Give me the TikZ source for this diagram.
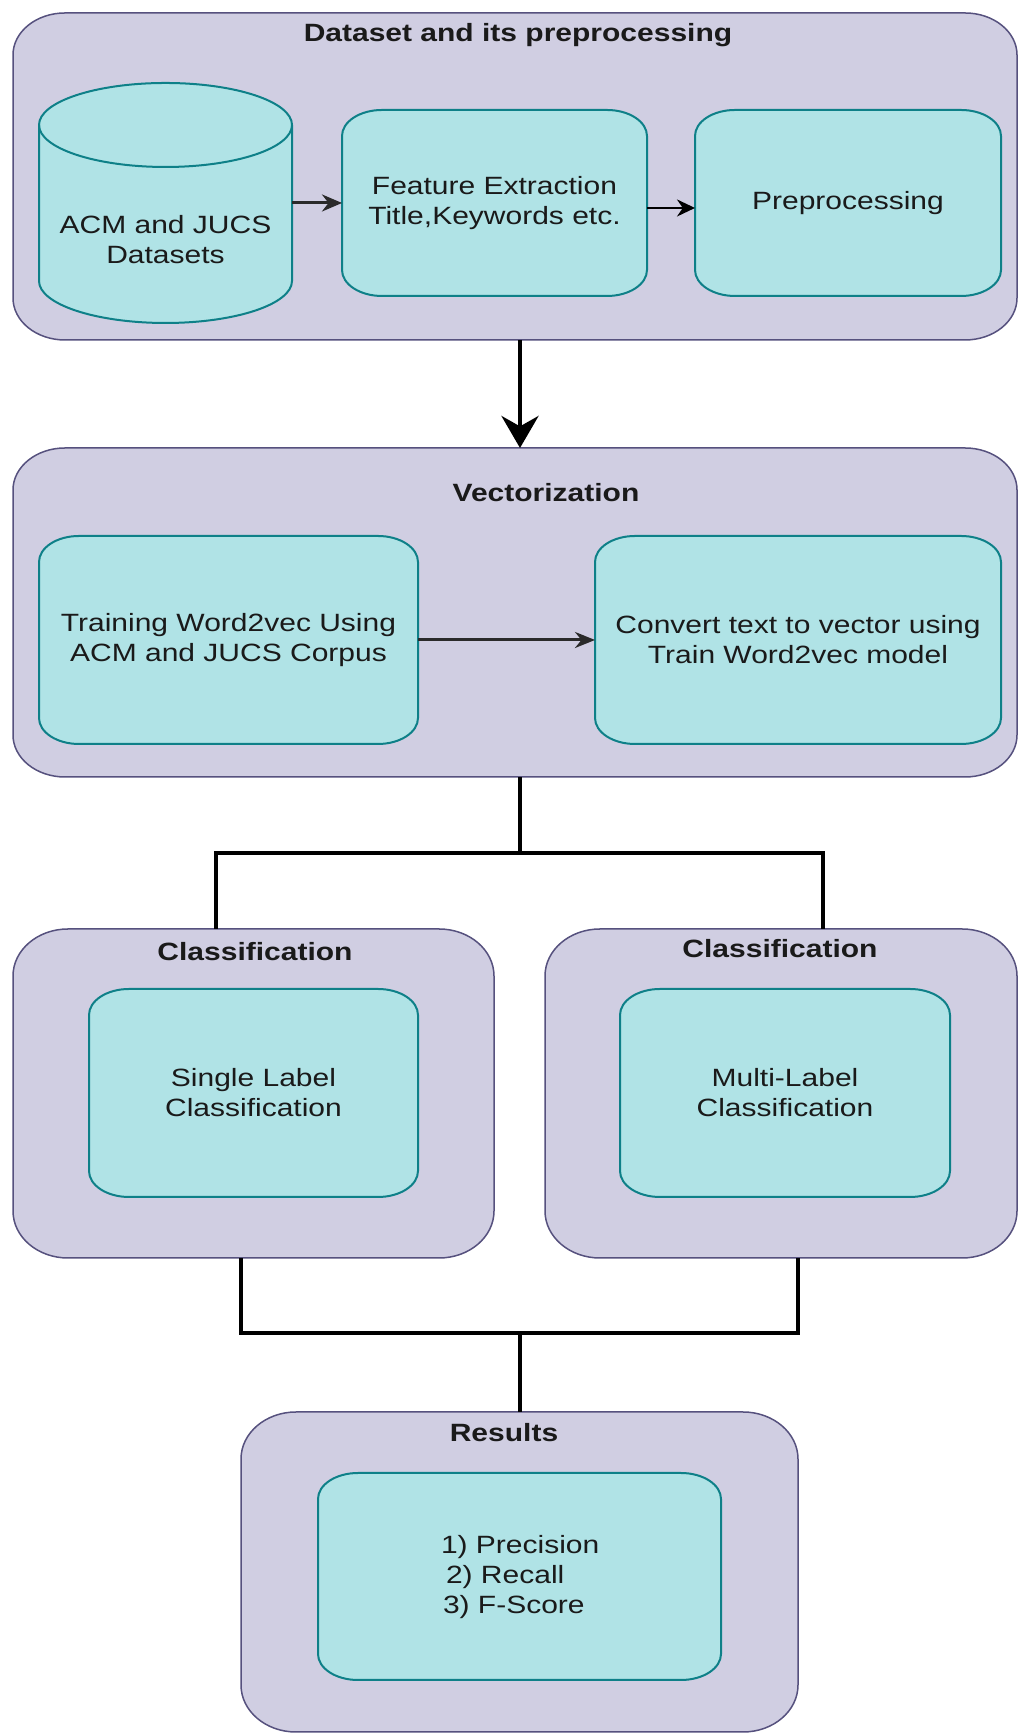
\documentclass[tikz,border=0pt]{standalone}
\usepackage{fontspec}
\setmainfont{Liberation Sans}[FakeStretch=1.2]
\usetikzlibrary{arrows.meta,calc}
\definecolor{outfill}{HTML}{D0CEE2}
\definecolor{outline}{HTML}{56517E}
\definecolor{infill}{HTML}{B0E3E6}
\definecolor{inline}{HTML}{0E8088}
\definecolor{txt}{HTML}{1A1A1A}
\definecolor{arrg}{HTML}{2A2A2A}
\pgfdeclarelayer{bgA}
\pgfdeclarelayer{bgB}
\pgfsetlayers{bgA,bgB,main}
\newcommand\myrbox[4]{%
  \path[#4] ([xshift=#2pt]#1.north west) -- ([xshift=-#2pt]#1.north east)
    arc[start angle=90,end angle=0,x radius=#2pt,y radius=#3pt]
    -- ([yshift=#3pt]#1.south east)
    arc[start angle=0,end angle=-90,x radius=#2pt,y radius=#3pt]
    -- ([xshift=#2pt]#1.south west)
    arc[start angle=270,end angle=180,x radius=#2pt,y radius=#3pt]
    -- ([yshift=-#3pt]#1.north west)
    arc[start angle=180,end angle=90,x radius=#2pt,y radius=#3pt]
    -- cycle;}
\begin{document}
\begin{tikzpicture}[x=1pt,y=1pt,
  every node/.style={inner sep=0pt,outer sep=0pt,font=\fontsize{25}{30}\selectfont,text=txt,align=center},
  holder/.style 2 args={minimum width=#1pt,minimum height=#2pt},
  ttl/.style={font=\fontsize{25}{30}\selectfont\bfseries},
  outerbox/.style={fill=outfill,draw=outline,line width=1.5pt},
  innerbox/.style={fill=infill,draw=inline,line width=2pt},
  conn/.style={line width=3.5pt,draw=black}]
\useasboundingbox (0,0) rectangle (1019,1734);

% ---- group 1
\node[holder={1004}{327}] (box1) at (515,1557.5) {};
\node[ttl] (t1) at (518,1699) {Dataset and its preprocessing};
\node[holder={253}{240}] (db) at (165.5,1531) {};
\node (dbtxt) at (165.5,1494) {ACM and JUCS\\Datasets};
\node[holder={305}{186}] (fe) at (494.5,1531) {Feature Extraction\\Title,Keywords etc.};
\node[holder={306}{186}] (prep) at (848,1531) {Preprocessing};

% ---- group 2
\node[holder={1004}{329}] (box2) at (515,1121.5) {};
\node[ttl] (t2) at (546,1241) {Vectorization};
\node[holder={379}{208}] (train) at (228.5,1094) {Training Word2vec Using\\ACM and JUCS Corpus};
\node[holder={406}{208}] (conv) at (798,1094) {Convert text to vector using\\Train Word2vec model};

% ---- classification
\node[holder={481}{329}] (cl1) at (253.5,640.5) {};
\node[ttl] (t3) at (255,782) {Classification};
\node[holder={472}{329}] (cl2) at (781,640.5) {};
\node[ttl] (t4) at (780,785) {Classification};
\node[holder={329}{208}] (sl) at (253.5,641) {Single Label\\Classification};
\node[holder={330}{208}] (ml) at (785,641) {Multi-Label\\Classification};

% ---- results
\node[holder={557}{320}] (res) at (519.5,162) {};
\node[ttl] (t5) at (504,301) {Results};
\node[holder={403}{207}] (resin) at (519.5,157.5) {};
\node[anchor=west,align=left] (restxt) at (441,157) {1) Precision\\\hspace*{5pt}2) Recall\\\hspace*{2pt}3) F-Score};

% ---- shapes
\begin{pgfonlayer}{bgA}
  \fill[white] (0,0) rectangle (1019,1734);
  \myrbox{box1}{52}{42}{outerbox}
  \myrbox{box2}{52}{42}{outerbox}
  \myrbox{cl1}{55}{47}{outerbox}
  \myrbox{cl2}{55}{47}{outerbox}
  \myrbox{res}{55}{47}{outerbox}
\end{pgfonlayer}
\begin{pgfonlayer}{bgB}
  \myrbox{fe}{40}{26}{innerbox}
  \myrbox{prep}{40}{26}{innerbox}
  \myrbox{train}{40}{26}{innerbox}
  \myrbox{conv}{40}{26}{innerbox}
  \myrbox{sl}{40}{26}{innerbox}
  \myrbox{ml}{40}{26}{innerbox}
  \myrbox{resin}{40}{26}{innerbox}
  \path[innerbox] ([yshift=-42pt]db.north west) -- ([yshift=42pt]db.south west)
    arc[start angle=180,end angle=360,x radius=126.5pt,y radius=42pt]
    -- ([yshift=-42pt]db.north east)
    arc[start angle=0,end angle=180,x radius=126.5pt,y radius=42pt] -- cycle;
  \draw[draw=inline,line width=2pt] ([yshift=-42pt]db.north west)
    arc[start angle=180,end angle=360,x radius=126.5pt,y radius=42pt];
\end{pgfonlayer}

% ---- connectors
\draw[draw=arrg,line width=3pt,-{Stealth[length=20pt,width=17pt]}] (db.east) -- (fe.west);
\draw[line width=2.5pt,-{Stealth[length=18pt,width=17pt]}] ([yshift=-5pt]fe.east) -- ([yshift=-5pt]prep.west);
\draw[line width=4.5pt,-{Stealth[length=32pt,width=37pt]}] ([xshift=5pt]box1.south) -- ([xshift=5pt]box2.north);
\draw[draw=arrg,line width=3pt,-{Stealth[length=20pt,width=16pt]}] (train.east) -- (conv.west);

\coordinate (j1) at (520,881);
\coordinate (jl) at (216,881);
\coordinate (jr) at (823,881);
\draw[conn] ([xshift=5pt]box2.south) -- (j1);
\draw[conn] (jl |- cl1.north) -- (jl) -- (jr) -- (jr |- cl2.north);

\coordinate (k1) at (241,401);
\coordinate (k2) at (798,401);
\coordinate (k3) at (520,401);
\draw[conn] (k1 |- cl1.south) -- (k1) -- (k2) -- (k2 |- cl2.south);
\draw[conn] (k3) -- (k3 |- res.north);
\end{tikzpicture}
\end{document}
